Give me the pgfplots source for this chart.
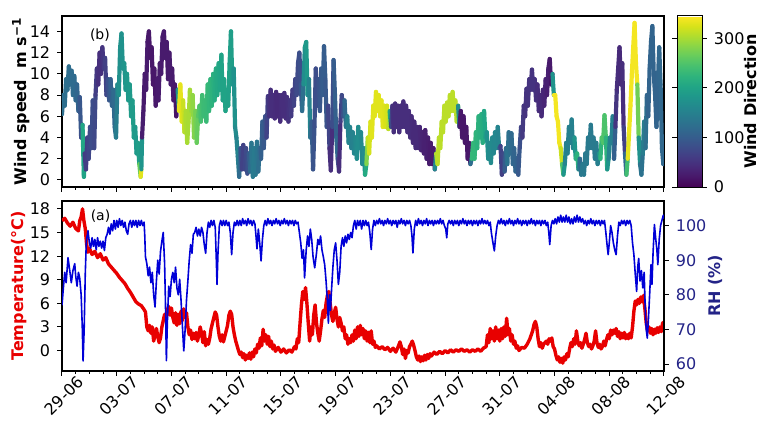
\documentclass[border=0pt]{standalone}
\usepackage{fontspec}
\setmainfont{DejaVu Sans}
\usepackage{pgfplots}
\pgfplotsset{compat=1.18}
\usepackage{pgfplotstable}
\definecolor{rhblue}{RGB}{0,0,215}
\definecolor{rhnavy}{RGB}{35,35,135}
\definecolor{tred}{RGB}{232,0,0}

\pgfplotstableread{
d v dir
0.00 6.2 125
0.10 8.0 125
0.20 7.0 125
0.30 9.5 125
0.40 8.5 125
0.50 10.7 125
0.60 9.0 122
0.70 10.3 122
0.80 8.0 120
0.90 9.8 120
1.00 7.5 118
1.10 9.0 115
1.20 6.5 110
1.30 7.8 100
1.40 4.0 85
1.50 5.2 70
1.60 0.3 340
1.65 2.5 60
1.75 1.0 60
1.85 4.0 65
1.95 2.0 70
2.05 5.0 75
2.15 3.0 80
2.25 7.5 80
2.35 3.0 80
2.45 8.0 70
2.55 10.5 55
2.65 9.0 50
2.75 12.0 45
2.85 10.0 45
2.95 12.5 50
3.05 10.5 55
3.15 11.5 60
3.25 8.0 70
3.35 9.5 80
3.45 7.5 90
3.55 9.5 100
3.65 7.0 105
3.75 8.5 115
3.85 5.0 120
3.95 4.0 130
4.05 9.0 160
4.15 8.0 170
4.25 12.5 175
4.35 13.8 175
4.45 10.5 175
4.55 11.0 180
4.65 8.5 180
4.75 10.0 185
4.85 7.5 185
4.95 9.0 185
5.05 6.0 190
5.15 7.5 190
5.25 4.0 190
5.35 5.0 190
5.45 2.5 185
5.55 3.5 185
5.65 1.5 200
5.75 0.3 330
5.80 1.0 330
5.85 4.0 30
5.95 6.5 25
6.05 10.0 25
6.15 8.5 25
6.25 13.0 25
6.35 14.0 20
6.45 11.5 20
6.55 12.5 20
6.65 9.0 20
6.75 10.5 20
6.85 7.0 20
6.95 9.5 25
7.05 7.5 25
7.15 11.0 25
7.25 10.0 25
7.35 13.5 25
7.45 14.0 25
7.55 11.5 25
7.65 13.0 25
7.75 9.5 25
7.85 12.0 25
7.95 9.0 25
8.05 10.5 25
8.15 7.5 25
8.25 9.0 25
8.35 6.0 20
8.45 8.5 15
8.55 6.5 335
8.65 9.0 335
8.75 5.5 330
8.85 7.5 325
8.95 4.5 310
9.05 6.5 305
9.15 3.5 300
9.25 5.5 300
9.35 8.5 300
9.45 6.5 295
9.55 8.0 290
9.65 4.0 285
9.75 6.5 275
9.85 3.5 270
9.95 6.0 260
10.05 7.0 250
10.15 5.5 245
10.25 8.0 240
10.35 6.0 235
10.45 7.5 235
10.55 5.5 235
10.65 9.0 230
10.75 6.5 230
10.85 9.5 225
10.95 7.0 225
11.05 10.0 220
11.15 7.5 215
11.25 10.5 210
11.35 8.0 210
11.45 11.0 205
11.55 8.5 205
11.65 11.8 200
11.75 7.5 200
11.85 9.5 200
11.95 6.5 200
12.05 8.5 200
12.15 7.0 200
12.25 11.0 195
12.35 14.0 195
12.45 9.0 190
12.55 10.5 180
12.65 5.0 170
12.75 4.0 160
12.85 2.2 150
12.95 0.3 140
13.05 3.0 100
13.15 1.0 70
13.25 3.3 65
13.35 1.0 70
13.45 3.0 75
13.55 0.6 80
13.65 2.5 90
13.75 0.8 110
13.85 3.5 130
13.95 0.3 140
14.05 3.0 140
14.15 0.5 140
14.25 3.6 135
14.35 0.8 130
14.45 3.0 120
14.55 2.0 110
14.65 5.5 100
14.75 3.0 100
14.85 6.0 90
14.95 4.0 80
15.05 7.9 60
15.15 6.0 50
15.25 8.5 45
15.35 6.0 45
15.45 8.0 45
15.55 5.8 45
15.65 8.3 40
15.75 6.0 40
15.85 8.0 40
15.95 5.5 40
16.05 8.0 45
16.15 6.0 45
16.25 8.2 45
16.35 5.8 45
16.45 7.8 45
16.55 5.5 50
16.65 7.5 50
16.75 6.0 55
16.85 8.5 60
16.95 7.0 65
17.05 9.5 70
17.15 8.0 75
17.25 11.0 80
17.35 12.0 80
17.45 9.0 85
17.55 6.5 100
17.65 9.0 150
17.75 12.5 185
17.85 13.0 190
17.95 8.0 180
18.05 9.5 170
18.15 4.0 140
18.25 5.5 110
18.35 1.0 90
18.45 5.0 85
18.55 10.5 80
18.65 7.0 80
18.75 9.5 85
18.85 6.5 90
18.95 10.5 95
19.05 8.0 100
19.15 12.6 100
19.25 9.5 100
19.35 5.0 90
19.45 7.0 80
19.55 3.0 60
19.65 0.9 30
19.75 5.0 60
19.85 11.3 100
19.95 8.0 100
20.05 4.0 110
20.15 2.0 120
20.25 0.8 30
20.35 5.5 60
20.45 8.0 70
20.55 6.0 80
20.65 7.5 100
20.75 5.0 130
20.85 6.0 150
20.95 3.5 155
21.05 5.0 155
21.15 3.0 150
21.25 4.5 150
21.35 2.5 155
21.45 4.0 160
21.55 2.0 165
21.65 5.0 170
21.75 3.0 170
21.85 4.5 165
21.95 1.5 160
22.05 3.0 160
22.15 0.5 170
22.25 1.5 250
22.35 4.0 310
22.45 2.5 320
22.55 5.5 325
22.65 4.0 330
22.75 7.0 330
22.85 6.0 330
22.95 8.3 330
23.05 6.5 330
23.15 8.0 330
23.25 6.0 330
23.35 7.5 330
23.45 5.0 330
23.55 7.0 330
23.65 5.0 325
23.75 7.0 325
23.85 4.8 320
23.95 6.5 300
24.05 5.0 100
24.15 7.0 50
24.25 4.5 45
24.35 7.2 45
24.45 5.0 45
24.55 7.0 45
24.65 4.5 45
24.75 7.0 45
24.85 5.0 45
24.95 7.4 45
25.05 5.0 45
25.15 7.0 45
25.25 4.5 45
25.35 6.5 45
25.45 4.0 45
25.55 6.0 45
25.65 3.5 40
25.75 5.5 40
25.85 3.0 40
25.95 5.0 40
26.05 3.0 40
26.15 5.0 40
26.25 2.8 35
26.35 4.5 35
26.45 2.5 30
26.55 4.7 30
26.65 2.0 30
26.75 4.0 30
26.85 1.5 25
26.95 3.5 25
27.05 1.5 25
27.15 3.0 25
27.25 1.0 25
27.35 2.5 300
27.45 1.5 310
27.55 4.0 310
27.65 3.0 310
27.75 5.5 310
27.85 4.5 310
27.95 7.0 310
28.05 5.5 310
28.15 7.3 310
28.25 6.0 310
28.35 8.0 310
28.45 6.5 310
28.55 8.3 310
28.65 6.5 310
28.75 7.5 310
28.85 5.5 310
28.95 7.0 300
29.05 5.0 30
29.15 6.5 20
29.25 4.0 20
29.35 6.0 20
29.45 3.5 20
29.55 5.0 20
29.65 2.0 20
29.75 3.5 20
29.85 1.5 20
29.95 2.0 230
30.05 3.5 230
30.15 2.0 230
30.25 4.5 225
30.35 3.0 225
30.45 6.0 220
30.55 4.0 220
30.65 6.2 215
30.75 3.5 215
30.85 6.5 210
30.95 4.0 200
31.05 4.5 180
31.15 2.0 170
31.25 3.5 165
31.35 1.6 165
31.45 4.0 165
31.55 2.5 160
31.65 4.5 160
31.75 3.0 160
31.85 5.0 160
31.95 3.0 150
32.05 3.2 80
32.15 0.5 60
32.25 2.5 70
32.35 0.8 80
32.45 3.0 120
32.55 1.5 130
32.65 4.5 130
32.75 2.5 125
32.85 4.4 120
32.95 1.5 115
33.05 3.0 110
33.15 0.8 110
33.25 2.0 110
33.35 0.5 100
33.45 3.0 90
33.55 5.0 75
33.65 4.0 60
33.75 7.0 55
33.85 6.0 50
33.95 8.6 50
34.05 7.0 50
34.15 9.5 50
34.25 8.5 50
34.35 10.4 50
34.45 8.5 50
34.55 9.5 50
34.65 7.5 50
34.75 9.0 45
34.85 6.5 45
34.95 8.0 40
35.05 6.0 40
35.15 8.5 40
35.25 7.0 35
35.35 9.5 35
35.45 8.0 30
35.55 10.5 30
35.65 11.4 25
35.75 9.0 20
35.85 10.0 15
35.95 8.0 340
36.05 8.0 340
36.15 6.0 340
36.25 5.5 340
36.35 3.5 340
36.45 3.0 335
36.55 1.5 300
36.65 0.5 200
36.75 1.5 160
36.85 3.5 150
36.95 2.5 150
37.05 5.0 150
37.15 3.5 150
37.25 5.7 150
37.35 3.0 150
37.45 4.0 160
37.55 2.0 200
37.65 2.5 240
37.75 1.0 200
37.85 2.0 100
37.95 0.5 140
38.05 1.5 140
38.15 0.5 140
38.25 2.5 140
38.35 1.5 140
38.45 4.0 140
38.55 3.0 140
38.65 5.2 140
38.75 3.0 140
38.85 4.0 140
38.95 2.0 140
39.05 3.5 140
39.15 1.5 145
39.25 2.5 150
39.35 2.0 200
39.45 4.0 250
39.55 3.5 250
39.65 6.1 250
39.75 4.0 245
39.85 1.0 200
39.95 2.0 160
40.05 4.0 150
40.15 3.5 150
40.25 6.0 150
40.35 2.0 150
40.45 5.0 60
40.55 8.5 45
40.65 10.5 45
40.75 12.5 40
40.85 9.0 40
40.95 11.0 40
41.05 5.0 50
41.15 2.5 80
41.25 0.5 150
41.35 2.0 330
41.45 4.5 335
41.55 7.0 340
41.65 10.0 340
41.75 12.5 340
41.85 14.8 340
41.95 11.0 340
42.05 9.0 340
42.15 4.0 200
42.25 1.5 150
42.35 0.5 120
42.45 2.5 140
42.55 5.5 150
42.65 3.0 140
42.75 8.0 115
42.85 6.0 110
42.95 10.5 110
43.05 13.0 110
43.15 14.5 110
43.25 10.0 110
43.35 8.0 110
43.45 5.0 110
43.55 9.0 110
43.65 12.5 115
43.75 9.0 115
43.85 3.0 115
43.95 1.5 115
44.00 4.0 115
}\wind

\pgfplotstableread{
d T
0.0 16.5
0.2 16.8
0.4 16.2
0.6 15.8
0.8 16.3
1.0 15.5
1.2 15.2
1.3 16.5
1.4 17.0
1.5 18.0
1.6 16.5
1.7 15.5
1.8 13.5
1.9 12.5
2.0 13.0
2.2 12.2
2.4 12.6
2.6 11.8
2.8 12.3
3.0 11.5
3.2 11.8
3.4 11.0
3.6 10.6
3.8 10.2
4.0 9.8
4.2 9.3
4.4 8.9
4.6 8.5
4.8 7.9
5.0 7.4
5.2 6.8
5.4 6.2
5.6 5.9
5.8 5.7
6.0 5.2
6.1 4.9
6.2 3.0
6.3 2.5
6.4 3.2
6.5 2.2
6.6 3.0
6.7 1.2
6.8 2.0
6.9 2.8
7.0 1.8
7.1 1.0
7.2 1.6
7.3 3.0
7.4 3.8
7.5 4.6
7.6 3.8
7.7 5.2
7.8 5.6
7.9 4.5
8.0 5.4
8.1 4.2
8.2 3.5
8.3 4.8
8.4 3.2
8.5 4.6
8.6 3.4
8.7 5.0
8.8 3.8
8.9 5.3
9.0 4.2
9.1 4.8
9.2 3.0
9.3 2.0
9.4 2.6
9.5 1.4
9.6 2.2
9.7 1.5
9.8 2.3
9.9 1.2
10.0 2.0
10.1 3.0
10.2 2.2
10.3 1.0
10.4 2.4
10.5 0.6
10.6 1.4
10.7 0.8
10.8 1.6
10.9 2.8
11.0 3.5
11.1 4.2
11.2 4.9
11.3 4.5
11.4 3.0
11.5 1.8
11.6 1.2
11.7 2.0
11.8 1.1
11.9 1.8
12.0 2.5
12.1 3.2
12.2 4.5
12.3 5.0
12.4 4.6
12.5 3.0
12.6 2.0
12.7 1.2
12.8 0.6
12.9 0.0
13.0 -0.5
13.1 -0.2
13.2 -0.9
13.3 -0.4
13.4 -1.2
13.5 -0.6
13.6 -1.0
13.7 -0.3
13.8 -1.1
13.9 -0.2
14.0 -0.8
14.1 0.2
14.2 -0.3
14.3 0.8
14.4 0.3
14.5 1.6
14.6 0.6
14.7 2.7
14.8 1.2
14.9 2.0
15.0 0.8
15.1 1.8
15.2 0.5
15.3 1.2
15.4 0.2
15.5 0.7
15.6 -0.1
15.8 0.4
16.0 -0.2
16.2 0.2
16.4 -0.3
16.6 0.1
16.8 -0.2
17.0 0.5
17.1 0.2
17.2 1.5
17.3 1.0
17.4 3.5
17.5 5.8
17.6 7.5
17.7 6.5
17.8 8.0
17.9 6.0
18.0 3.5
18.1 1.2
18.2 3.0
18.3 2.0
18.4 4.5
18.5 5.8
18.6 3.5
18.7 2.2
18.8 1.2
18.9 2.5
19.0 4.0
19.1 5.1
19.2 4.2
19.3 6.0
19.4 7.0
19.5 7.5
19.6 6.0
19.7 4.5
19.8 3.7
19.9 4.8
20.0 5.5
20.1 4.0
20.2 3.0
20.3 4.2
20.4 3.5
20.5 2.5
20.6 3.0
20.7 1.5
20.8 2.0
20.9 0.8
21.0 1.5
21.1 1.0
21.2 2.0
21.3 1.2
21.4 2.6
21.5 1.5
21.6 3.0
21.7 1.8
21.8 3.2
21.9 2.0
22.0 2.8
22.1 1.5
22.2 2.5
22.3 1.2
22.4 2.3
22.5 1.0
22.6 2.5
22.7 0.8
22.8 1.2
22.9 0.4
23.0 0.6
23.2 0.2
23.4 0.5
23.6 0.1
23.8 0.4
24.0 -0.1
24.2 0.3
24.4 -0.2
24.6 0.6
24.7 1.1
24.8 0.5
24.9 -0.5
25.0 0.2
25.1 -1.0
25.2 0.0
25.3 -0.3
25.4 0.5
25.5 0.8
25.6 1.2
25.7 0.7
25.8 0.0
25.9 -0.8
26.0 -1.2
26.1 -0.7
26.2 -1.4
26.3 -0.8
26.4 -1.3
26.5 -0.6
26.6 -1.2
26.7 -0.5
26.8 -1.0
26.9 -0.4
27.0 -0.7
27.2 -0.2
27.4 -0.5
27.6 -0.1
27.8 -0.4
28.0 0.0
28.2 -0.3
28.4 0.1
28.6 -0.2
28.8 0.1
29.0 -0.1
29.2 0.2
29.4 -0.1
29.6 0.1
29.8 -0.2
30.0 0.1
30.2 -0.1
30.4 0.2
30.6 -0.1
30.8 0.3
31.0 0.5
31.1 2.0
31.2 1.0
31.3 2.8
31.4 1.5
31.5 2.5
31.6 1.2
31.7 3.0
31.8 1.5
31.9 2.6
32.0 1.2
32.1 2.8
32.2 1.5
32.3 3.0
32.4 1.8
32.5 4.1
32.6 2.0
32.7 2.8
32.8 1.2
32.9 2.0
33.0 0.8
33.1 1.2
33.2 0.3
33.3 0.6
33.4 0.0
33.6 0.4
33.8 0.3
34.0 0.8
34.2 1.5
34.4 2.5
34.5 3.3
34.6 3.7
34.7 3.0
34.8 1.5
34.9 0.5
35.0 1.0
35.1 0.3
35.2 0.8
35.4 1.2
35.5 0.8
35.6 1.5
35.7 1.2
35.8 1.6
35.9 0.5
36.0 0.2
36.1 -0.6
36.2 -1.2
36.3 -0.8
36.4 -1.5
36.5 -1.0
36.6 -1.6
36.7 -0.8
36.8 -1.2
36.9 -0.4
37.0 -0.8
37.1 0.2
37.2 1.0
37.3 0.5
37.4 1.5
37.5 0.8
37.6 2.5
37.7 1.2
37.8 0.6
37.9 1.0
38.0 0.3
38.1 0.8
38.2 1.4
38.3 2.2
38.4 1.0
38.5 0.5
38.6 0.8
38.7 0.2
38.8 0.6
38.9 1.2
39.0 2.5
39.1 1.0
39.2 0.4
39.3 0.8
39.4 0.2
39.5 0.5
39.6 1.2
39.7 0.6
39.8 1.4
39.9 2.0
40.0 1.5
40.1 2.6
40.2 2.0
40.3 2.6
40.4 2.2
40.5 2.8
40.6 1.8
40.7 2.4
40.8 1.5
40.9 2.2
41.0 1.6
41.1 2.3
41.2 1.5
41.3 2.0
41.4 1.5
41.5 2.2
41.6 1.6
41.7 3.0
41.8 5.0
41.9 6.3
42.0 5.8
42.1 6.5
42.2 6.0
42.3 6.8
42.4 6.2
42.5 7.0
42.6 5.4
42.7 3.5
42.8 2.5
42.9 3.0
43.0 2.2
43.1 2.8
43.2 2.0
43.3 2.7
43.4 2.2
43.5 2.9
43.6 2.3
43.7 3.0
43.8 2.4
43.9 3.5
44.0 3.6
}\temp

\pgfplotstableread{
d RH
0.00 77.0
0.10 82.0
0.20 86.5
0.30 83.5
0.44 90.7
0.55 87.5
0.68 83.5
0.80 87.0
0.93 89.0
1.00 85.5
1.10 82.5
1.20 86.5
1.29 85.0
1.40 80.0
1.48 71.0
1.54 60.9
1.62 70.0
1.70 86.0
1.78 95.5
1.90 98.5
2.00 95.0
2.10 93.5
2.20 96.5
2.30 94.0
2.40 96.0
2.50 93.0
2.60 96.5
2.70 94.0
2.80 95.5
2.90 93.5
3.00 95.5
3.10 92.8
3.20 96.5
3.30 97.5
3.40 99.5
3.50 97.5
3.60 100.5
3.70 98.5
3.80 101.5
3.90 99.0
4.00 101.5
4.10 99.5
4.20 102.0
4.30 100.0
4.40 101.5
4.50 99.5
4.60 101.0
4.70 98.5
4.80 97.5
4.90 100.5
5.00 101.5
5.10 99.5
5.20 101.5
5.30 100.0
5.40 101.5
5.50 99.5
5.60 101.5
5.70 100.0
5.80 101.5
5.90 100.0
6.00 101.0
6.05 97.0
6.10 91.0
6.20 89.0
6.30 85.5
6.40 88.0
6.50 83.5
6.60 86.5
6.70 80.0
6.80 76.5
6.90 84.0
7.00 90.0
7.10 86.0
7.20 92.5
7.30 95.5
7.40 98.0
7.50 89.0
7.56 78.0
7.63 61.0
7.70 72.0
7.80 82.5
7.90 79.5
8.00 84.5
8.10 86.5
8.20 83.5
8.30 88.0
8.40 82.0
8.50 80.0
8.60 84.5
8.70 78.5
8.80 71.0
8.90 63.8
9.00 70.0
9.10 78.5
9.20 84.0
9.30 90.0
9.40 94.5
9.50 92.0
9.60 97.5
9.70 98.0
9.80 99.5
9.90 97.0
10.00 99.0
10.10 97.0
10.20 99.5
10.30 98.0
10.40 94.5
10.50 92.0
10.60 98.0
10.70 101.0
10.80 99.5
10.90 101.5
11.00 100.0
11.10 101.5
11.20 99.5
11.28 90.0
11.33 83.0
11.40 92.0
11.50 100.0
11.60 101.5
11.70 100.0
11.80 101.5
11.90 100.0
12.00 101.5
12.10 100.0
12.20 101.0
12.30 98.0
12.40 91.6
12.50 98.0
12.60 101.0
12.70 100.0
12.80 101.5
12.90 100.0
13.00 101.5
13.10 100.0
13.20 102.0
13.30 100.5
13.40 101.5
13.50 100.0
13.60 102.0
13.70 100.5
13.80 101.5
13.90 100.0
14.00 101.5
14.10 100.5
14.18 97.0
14.25 93.3
14.35 99.0
14.45 95.0
14.55 89.8
14.65 96.0
14.75 100.0
14.85 101.5
14.95 100.0
15.05 102.0
15.15 100.5
15.25 101.5
15.35 100.0
15.45 101.5
15.55 100.5
15.65 102.0
15.75 100.5
15.85 101.5
15.95 100.0
16.05 101.5
16.15 100.5
16.25 102.0
16.35 100.5
16.45 101.5
16.55 100.0
16.65 101.5
16.75 100.5
16.85 101.5
16.95 100.0
17.05 101.5
17.15 100.5
17.25 101.0
17.35 98.0
17.45 95.0
17.55 90.5
17.65 93.0
17.73 84.9
17.85 93.0
17.95 97.0
18.05 94.0
18.15 99.0
18.25 96.0
18.35 91.0
18.47 87.8
18.60 92.0
18.70 96.0
18.80 94.5
18.90 97.0
19.00 93.0
19.10 91.0
19.20 88.7
19.30 84.0
19.40 78.0
19.47 71.8
19.55 80.0
19.62 75.5
19.70 81.4
19.80 88.0
19.90 93.0
20.00 95.0
20.10 90.0
20.20 83.0
20.30 86.5
20.40 94.0
20.50 96.5
20.60 94.0
20.70 97.0
20.80 95.0
20.90 97.5
21.00 96.0
21.10 98.0
21.20 96.5
21.30 100.0
21.40 101.5
21.50 99.0
21.60 101.5
21.70 100.0
21.80 101.5
21.90 99.0
22.00 101.5
22.10 100.0
22.20 101.5
22.30 100.0
22.40 101.0
22.50 98.0
22.60 93.1
22.70 99.0
22.80 101.5
22.90 100.0
23.00 101.5
23.10 100.5
23.20 102.0
23.30 100.5
23.40 101.5
23.50 100.0
23.60 101.5
23.70 100.5
23.80 102.0
23.90 100.5
24.00 101.5
24.10 100.0
24.20 101.5
24.30 100.5
24.40 101.5
24.50 99.5
24.60 101.5
24.70 100.5
24.80 102.0
24.90 100.5
25.00 101.5
25.10 100.0
25.20 101.5
25.30 100.5
25.40 101.5
25.50 100.0
25.58 97.0
25.65 92.1
25.75 99.0
25.85 101.5
25.95 100.0
26.05 102.0
26.15 100.5
26.25 101.5
26.35 100.0
26.45 101.5
26.55 100.5
26.65 102.0
26.75 100.0
26.85 101.5
26.95 100.5
27.05 101.5
27.15 100.0
27.25 101.5
27.35 100.5
27.45 101.5
27.55 100.5
27.65 102.0
27.75 100.5
27.85 101.5
27.95 100.0
28.05 99.0
28.12 96.5
28.20 100.5
28.30 101.5
28.40 100.5
28.50 101.5
28.60 100.0
28.70 101.5
28.80 100.5
28.90 101.5
29.00 100.0
29.10 101.5
29.20 100.5
29.30 102.0
29.40 100.5
29.50 101.5
29.60 100.0
29.70 101.5
29.80 100.5
29.90 101.5
30.00 100.0
30.10 101.5
30.20 100.5
30.30 101.5
30.40 100.0
30.50 101.5
30.60 100.5
30.70 102.0
30.80 100.5
30.90 101.5
31.00 100.5
31.10 101.5
31.20 100.0
31.30 101.0
31.38 98.0
31.50 95.0
31.60 92.7
31.70 97.0
31.80 100.0
31.90 101.5
32.00 100.5
32.10 102.0
32.20 100.5
32.30 101.5
32.40 100.0
32.50 101.5
32.60 100.5
32.70 102.0
32.80 100.5
32.90 101.5
33.00 100.0
33.10 101.5
33.20 100.5
33.30 102.0
33.40 100.5
33.50 101.5
33.60 100.0
33.70 101.5
33.80 100.5
33.90 101.5
34.00 100.0
34.10 101.5
34.20 100.5
34.30 102.0
34.40 100.5
34.50 101.5
34.60 100.0
34.70 101.5
34.80 100.5
34.90 101.5
35.00 100.0
35.10 101.5
35.20 100.5
35.30 101.5
35.40 100.0
35.50 101.0
35.58 98.0
35.65 94.5
35.75 100.0
35.85 101.5
35.95 100.5
36.05 102.0
36.15 100.5
36.25 102.5
36.35 101.0
36.45 103.0
36.55 101.0
36.65 102.5
36.75 101.0
36.85 103.0
36.95 101.0
37.05 102.5
37.15 100.5
37.25 102.0
37.35 100.5
37.45 102.5
37.55 101.0
37.65 103.0
37.75 101.0
37.85 102.5
37.95 101.0
38.05 102.0
38.15 100.5
38.25 101.5
38.35 100.0
38.45 101.5
38.55 100.5
38.65 102.0
38.75 100.5
38.85 101.5
38.95 100.0
39.05 101.5
39.15 100.5
39.25 101.5
39.35 100.0
39.45 101.5
39.55 100.5
39.65 101.5
39.75 98.0
39.85 94.0
39.92 91.6
40.00 95.0
40.10 100.0
40.20 98.0
40.30 95.0
40.40 93.0
40.50 91.6
40.60 97.0
40.70 101.0
40.80 100.0
40.90 101.5
41.00 100.5
41.10 101.5
41.20 100.0
41.30 101.5
41.40 100.5
41.50 101.5
41.60 100.0
41.70 95.0
41.80 91.6
41.90 86.0
42.00 81.0
42.08 88.0
42.15 90.5
42.25 84.0
42.35 87.0
42.45 82.0
42.55 86.5
42.62 77.0
42.70 70.0
42.78 67.5
42.85 72.0
42.95 80.0
43.05 88.7
43.12 83.0
43.20 92.0
43.30 100.3
43.40 96.0
43.48 93.0
43.55 88.7
43.65 96.0
43.75 100.0
43.85 101.5
43.95 103.0
44.00 102.0
}\rh

\pgfplotsset{
  panel/.style={
    scale only axis, width=301pt,
    xmin=0, xmax=44,
    xtick={0,4,...,44},
    minor x tick num=3,
    tick align=outside,
    xtick pos=left, ytick pos=left,
    major tick length=2.4pt, minor tick length=1.3pt,
    every tick/.style={black, line width=0.5pt},
    axis line style={line width=0.6pt},
    /pgf/number format/assume math mode=true,
    tick label style={font=\fontsize{8}{9.6}\selectfont},
    label style={font=\fontsize{8}{9.6}\selectfont\bfseries},
  },
}

\begin{document}
\begin{tikzpicture}
\path[use as bounding box] (0,0) rectangle (380.5pt,215pt);

% ---- top panel: wind speed coloured by direction
\begin{axis}[panel,
  at={(31pt,121.5pt)}, anchor=south west, height=85.5pt,
  ymin=-0.66, ymax=15.45,
  ytick={0,2,...,14},
  xticklabels={},
  ylabel={Wind speed\ \ m s\textsuperscript{−1}},
  ylabel style={at={(axis description cs:-0.068,0.5)}, anchor=center},
  colormap/viridis,
  point meta min=0, point meta max=345,
  colorbar,
  colorbar style={
    width=12.5pt,
    at={(parent axis.north east)}, anchor=north west, xshift=-2pt,
    ytick={0,100,200,300},
    tick align=outside,
    major tick length=2.4pt,
    every tick/.style={black, line width=0.5pt},
    axis line style={line width=0.5pt},
    /pgf/number format/assume math mode=true,
    yticklabel style={font=\fontsize{8}{9.6}\selectfont},
    ylabel={Wind Direction},
    ylabel style={font=\fontsize{8}{9.6}\selectfont\bfseries, at={(axis description cs:2.95,0.5)}, anchor=center},
  },
]
\addplot[mesh, point meta=explicit, line width=2.1pt, line cap=round, line join=round]
  table[x=d, y=v, meta=dir] {\wind};
\node[font=\fontsize{7}{8}\selectfont] at (rel axis cs:0.063,0.89) {(b)};
\end{axis}

% ---- bottom panel: temperature
\begin{axis}[panel,
  at={(31pt,29.5pt)}, anchor=south west, height=85pt,
  ymin=-2.6, ymax=19,
  ytick={0,3,...,18},
  xticklabels={29-06,03-07,07-07,11-07,15-07,19-07,23-07,27-07,31-07,04-08,08-08,12-08},
  xticklabel style={xshift=1pt, yshift=-10pt, rotate=45, anchor=center},
  ylabel={Temperature(°C)},
  ylabel style={text=tred, at={(axis description cs:-0.071,0.5)}, anchor=center},
]
\addplot[tred, line width=1.7pt, line join=round] table[x=d, y=T] {\temp};
\node[font=\fontsize{7}{8}\selectfont] at (rel axis cs:0.064,0.909) {(a)};
\end{axis}

% ---- bottom panel: relative humidity
\begin{axis}[
  scale only axis, width=301pt, height=85pt,
  at={(31pt,29.5pt)}, anchor=south west,
  xmin=0, xmax=44,
  axis x line=none,
  axis y line*=right,
  ymin=58, ymax=107.1,
  ytick={60,70,...,100},
  tick align=outside,
  major tick length=2.4pt,
  every tick/.style={black, line width=0.5pt},
  axis line style={line width=0.6pt},
  /pgf/number format/assume math mode=true,
  yticklabel style={font=\fontsize{8}{9.6}\selectfont, text=rhnavy},
  ylabel={RH (\%)},
  ylabel style={font=\fontsize{8}{9.6}\selectfont\bfseries, text=rhnavy, at={(axis description cs:1.086,0.5)}, anchor=center},
]
\addplot[rhblue, line width=0.8pt, line join=round] table[x=d, y=RH] {\rh};
\end{axis}
\end{tikzpicture}
\end{document}
